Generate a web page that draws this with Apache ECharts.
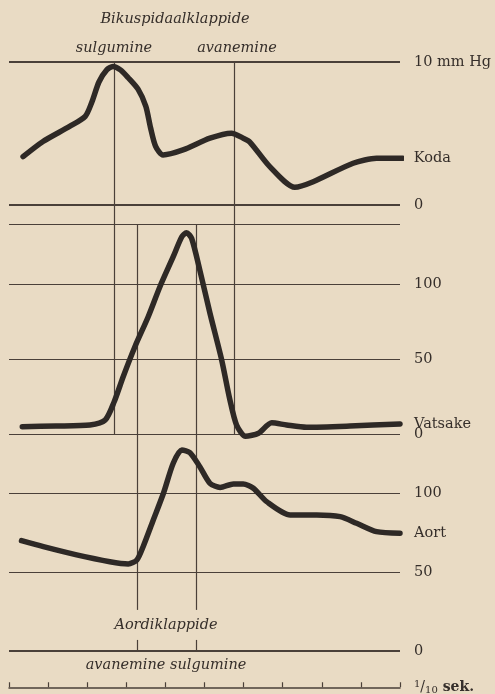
<!DOCTYPE html>
<html>
<head>
<meta charset="utf-8">
<script src="https://cdn.jsdelivr.net/npm/echarts@6/dist/echarts.min.js"></script>
<style>
  html, body { margin: 0; padding: 0; background: #e9dbc4; }
  #chart { width: 495px; height: 694px; }
</style>
</head>
<body>
<div id="chart"></div>
<script>
// ---- data (time in 1/10 s) ----
const kodaTime     = [0.36, 0.87, 1.55, 1.95, 2.12, 2.30, 2.50, 2.66, 2.85, 3.05, 3.30, 3.50, 3.62, 3.75, 3.94, 4.45, 5.14, 5.69, 5.99, 6.16, 6.67, 7.31, 7.78, 8.80, 9.40, 10.07];
const kodaPressure = [3.38, 4.44, 5.49, 6.20, 7.20, 8.60, 9.45, 9.69, 9.45, 8.90, 8.10, 6.90, 5.40, 4.10, 3.50, 3.85, 4.67, 5.02, 4.67, 4.40, 2.68, 1.24, 1.63, 2.92, 3.27, 3.27];

const vatsakeTime     = [0.34, 1.20, 2.07, 2.46, 2.69, 2.92, 3.22, 3.56, 3.86, 4.20, 4.42, 4.54, 4.67, 4.88, 5.14, 5.44, 5.65, 5.82, 6.05, 6.38, 6.72, 7.10, 7.61, 8.72, 10.0];
const vatsakePressure = [4.9, 5.3, 6.0, 9.3, 21.5, 38.2, 58.2, 78.2, 98.2, 118.2, 131.5, 134.2, 130.5, 109.3, 80.5, 49.3, 22.7, 6.0, -1.5, 0.5, 7.5, 6.0, 4.5, 5.3, 6.7];

const aortTime     = [0.32, 0.88, 1.73, 2.58, 3.05, 3.27, 3.43, 3.69, 3.95, 4.20, 4.42, 4.63, 4.88, 5.14, 5.40, 5.74, 5.99, 6.25, 6.59, 7.19, 7.87, 8.47, 8.89, 9.40, 10.0];
const aortPressure = [69.8, 66.0, 60.8, 56.5, 55.1, 57.6, 66.0, 82.9, 99.8, 118.8, 127.2, 125.5, 116.6, 106.1, 103.5, 105.7, 105.7, 103.0, 94.5, 86.1, 86.1, 85.0, 80.8, 75.5, 74.5];

// valve events (1/10 s)
const bicuspidClose = 2.70;
const bicuspidOpen  = 5.76;
const aorticOpen    = 3.29;
const aorticClose   = 4.80;

// horizontal reference lines and their labels
const kodaLines     = [10, 0];
const kodaLabels    = ['10 mm Hg', '0'];
const vatsakeLines  = [140, 100, 50, 0];
const vatsakeLabels = ['', '100', '50', '0'];
const aortLines     = [100, 50, 0];
const aortLabels    = ['100', '50', '0'];
const timeTicks     = [0, 10, 1]; // min, max, interval

// ---- build ----
const ink = '#2e2926';
const thin = '#4a4039';
const txt = '#352e2a';
const serif = '"DejaVu Serif", serif';
const pair = (ts, vs) => ts.map((t, i) => [t, vs[i]]);

function hLines(vals, labels, thickVals) {
  return vals.map((v, i) => ({
    yAxis: v,
    lineStyle: { width: thickVals.includes(v) ? 2 : 1.2, color: thin, type: 'solid' },
    label: { show: labels[i] !== '', formatter: labels[i], position: 'end', distance: 14,
             color: txt, fontFamily: serif, fontSize: 14.5 }
  }));
}
function vLine(t) {
  return { xAxis: t, lineStyle: { width: 1.2, color: thin, type: 'solid' }, label: { show: false } };
}
function vSeg(t, y1, y2) {
  return [{ coord: [t, y1], lineStyle: { width: 1.2, color: thin, type: 'solid' }, label: { show: false } },
          { coord: [t, y2] }];
}
function curve(name, gi, data, marks, dist) {
  return {
    name, type: 'line', xAxisIndex: gi, yAxisIndex: gi, data,
    smooth: 0.25, symbol: 'none', clip: false, z: 3,
    lineStyle: { color: ink, width: 5.5, cap: 'round', join: 'round' },
    endLabel: { show: true, formatter: name, distance: dist, color: txt, fontFamily: serif, fontSize: 14.5 },
    markLine: { silent: true, symbol: 'none', z: 1, animation: false, data: marks }
  };
}

const gridL = 9, gridW = 391;
const AORT_MAX = 137.3;
const hiddenX = (min, max) => ({ type: 'value', min, max, show: false });

const option = {
  backgroundColor: '#e9dbc4',
  animation: false,
  grid: [
    { left: gridL, width: gridW, top: 62, height: 162 },
    { left: gridL, width: gridW, top: 224, height: 210 },
    { left: gridL, width: gridW, top: 434, height: 217 },
    { left: gridL, width: gridW, top: 687, height: 1 }
  ],
  xAxis: [
    { gridIndex: 0, ...hiddenX(timeTicks[0], timeTicks[1]) },
    { gridIndex: 1, ...hiddenX(timeTicks[0], timeTicks[1]) },
    { gridIndex: 2, ...hiddenX(timeTicks[0], timeTicks[1]) },
    { gridIndex: 3, type: 'value', min: timeTicks[0], max: timeTicks[1], interval: timeTicks[2],
      position: 'bottom',
      axisLine: { show: true, lineStyle: { color: thin, width: 1.5 } },
      axisTick: { show: true, inside: true, length: 5, lineStyle: { color: thin, width: 1.2 } },
      axisLabel: { show: false }, splitLine: { show: false },
      name: '{a|1}{b|/}{c|10}{d| sek.}', nameLocation: 'end', nameGap: 14,
      nameTextStyle: {
        color: txt, fontFamily: serif, lineHeight: 16,
        rich: {
          a: { fontSize: 10, verticalAlign: 'top', fontFamily: serif, color: txt, lineHeight: 16 },
          b: { fontSize: 14, fontFamily: serif, color: txt, lineHeight: 16 },
          c: { fontSize: 10, verticalAlign: 'bottom', fontFamily: serif, color: txt, lineHeight: 16 },
          d: { fontSize: 14, fontWeight: 'bold', fontFamily: serif, color: txt, lineHeight: 16 }
        }
      }
    }
  ],
  yAxis: [
    { gridIndex: 0, type: 'value', min: -1.33, max: 10, show: false },
    { gridIndex: 1, type: 'value', min: 0, max: 140, show: false },
    { gridIndex: 2, type: 'value', min: 0, max: AORT_MAX, show: false },
    { gridIndex: 3, type: 'value', min: 0, max: 1, show: false }
  ],
  series: [
    curve('Koda', 0, pair(kodaTime, kodaPressure),
      [...hLines(kodaLines, kodaLabels, [10, 0]), vLine(bicuspidClose), vLine(bicuspidOpen)], 11),
    curve('Vatsake', 1, pair(vatsakeTime, vatsakePressure),
      [...hLines(vatsakeLines, vatsakeLabels, []), vLine(bicuspidClose), vLine(bicuspidOpen),
       vLine(aorticOpen), vLine(aorticClose)], 14),
    curve('Aort', 2, pair(aortTime, aortPressure),
      [...hLines(aortLines, aortLabels, [0]),
       vSeg(aorticOpen, AORT_MAX, 26), vSeg(aorticClose, AORT_MAX, 26),
       vSeg(aorticOpen, 7, 0), vSeg(aorticClose, 7, 0)], 14),
    { type: 'line', xAxisIndex: 3, yAxisIndex: 3, data: [], silent: true }
  ]
};

const chart = echarts.init(document.getElementById('chart'), null, { renderer: 'canvas' });
chart.setOption(option);

// italic annotations, centred on given pixel positions
function itext(text, cx, cy) {
  return { type: 'text', x: cx, y: cy, z: 10,
    style: { text, fill: txt, font: 'italic 14.5px "DejaVu Serif", serif', align: 'center', verticalAlign: 'middle' } };
}
chart.setOption({
  graphic: [
    itext('Bikuspidaalklappide', 175, 19),
    itext('sulgumine', 114, 48),
    itext('avanemine', 237, 48),
    itext('Aordiklappide', 166, 625),
    itext('avanemine sulgumine', 166, 665)
  ]
});
</script>
</body>
</html>
